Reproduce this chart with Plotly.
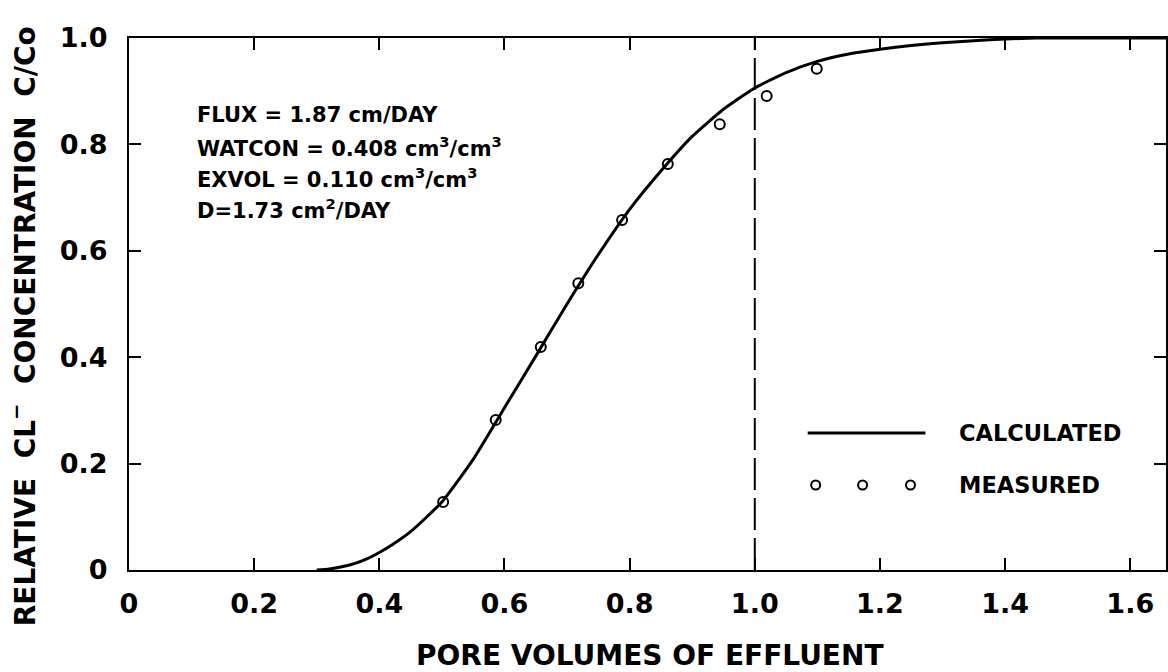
import plotly.graph_objects as go

# ---------------- data ----------------
pv_calc = [0.30, 0.32, 0.34, 0.36, 0.38, 0.40, 0.42, 0.45, 0.50, 0.55, 0.60, 0.65,
           0.70, 0.75, 0.80, 0.85, 0.90, 0.95, 1.00, 1.05, 1.10, 1.15, 1.20, 1.25,
           1.30, 1.35, 1.40, 1.45, 1.50, 1.60, 1.66]
c_calc = [0.0, 0.002, 0.006, 0.012, 0.021, 0.033, 0.047, 0.072, 0.128, 0.208, 0.305,
          0.402, 0.500, 0.593, 0.678, 0.750, 0.815, 0.866, 0.906, 0.935, 0.956, 0.970,
          0.979, 0.986, 0.991, 0.995, 0.998, 1.0, 1.0, 1.0, 1.0]

pv_meas = [0.502, 0.586, 0.658, 0.718, 0.788, 0.861, 0.944, 1.019, 1.099]
c_meas = [0.128, 0.282, 0.419, 0.539, 0.658, 0.763, 0.838, 0.891, 0.942]

x_ticks = [0, 0.2, 0.4, 0.6, 0.8, 1.0, 1.2, 1.4, 1.6]
x_ticktext = ["0", "0.2", "0.4", "0.6", "0.8", "1.0", "1.2", "1.4", "1.6"]
y_ticks = [0, 0.2, 0.4, 0.6, 0.8, 1.0]
y_ticktext = ["0", "0.2", "0.4", "0.6", "0.8", "1.0"]

params = ["FLUX = 1.87 cm/DAY",
          "WATCON = 0.408 cm<sup>3</sup>/cm<sup>3</sup>",
          "EXVOL = 0.110 cm<sup>3</sup>/cm<sup>3</sup>",
          "D=1.73 cm<sup>2</sup>/DAY"]
legend_labels = ["CALCULATED", "MEASURED"]
x_title = "PORE VOLUMES OF EFFLUENT"
y_title = "RELATIVE  CL<sup>\u2212</sup>  CONCENTRATION  C/Co"
ref_line_x = 1.0

# ---------------- layout helpers ----------------
W, H = 1168, 672
L, T, B = 129, 38, 570
FONT = "DejaVu Sans"


def px_x(p):
    return (p - L) / (W - L)


def px_y(p):
    return (B - p) / (B - T)


fig = go.Figure()

fig.add_trace(go.Scatter(x=pv_calc, y=c_calc, mode="lines",
                         line=dict(color="black", width=3, shape="spline", smoothing=0.5),
                         showlegend=False, cliponaxis=True))
fig.add_trace(go.Scatter(x=pv_meas, y=c_meas, mode="markers",
                         marker=dict(symbol="circle-open", size=10, color="black",
                                     line=dict(width=2, color="black")),
                         showlegend=False))

# vertical dashed line at one pore volume
fig.add_shape(type="line", xref="x", yref="y", x0=ref_line_x, x1=ref_line_x, y0=0, y1=1,
              line=dict(color="black", width=2, dash="32px,8px"))

annotations = []
for i, txt in enumerate(params):
    annotations.append(dict(text=txt, xref="paper", yref="paper",
                            x=px_x(195), y=px_y(115 + i * 31.5),
                            xanchor="left", yanchor="middle", showarrow=False,
                            font=dict(family=FONT, size=21, color="black", weight="bold")))

# legend (drawn manually)
fig.add_shape(type="line", xref="paper", yref="paper",
              x0=px_x(809), x1=px_x(927), y0=px_y(433), y1=px_y(433),
              line=dict(color="black", width=3))
for cx in (817, 864, 912):
    fig.add_shape(type="circle", xref="paper", yref="paper",
                  x0=px_x(cx - 4.5), x1=px_x(cx + 4.5), y0=px_y(485 + 4.5), y1=px_y(485 - 4.5),
                  line=dict(color="black", width=2))
for txt, yy in zip(legend_labels, (433, 485)):
    annotations.append(dict(text=txt, xref="paper", yref="paper",
                            x=px_x(959), y=px_y(yy), xanchor="left", yanchor="middle",
                            showarrow=False,
                            font=dict(family=FONT, size=22.5, color="black", weight="bold")))

annotations.append(dict(text=x_title, xref="paper", yref="paper",
                        x=px_x(651), y=px_y(655), xanchor="center", yanchor="middle",
                        showarrow=False,
                        font=dict(family=FONT, size=28, color="black", weight="bold")))
annotations.append(dict(text=y_title, xref="paper", yref="paper", textangle=-90,
                        x=px_x(23), y=px_y(326), xanchor="center", yanchor="middle",
                        showarrow=False,
                        font=dict(family=FONT, size=28, color="black", weight="bold")))

axis_common = dict(showgrid=False, zeroline=False, showline=True, linecolor="black",
                   linewidth=2, mirror="allticks", ticks="inside", ticklen=12,
                   tickwidth=2, tickcolor="black",
                   tickfont=dict(family=FONT, size=27, color="black", weight="bold"))

fig.update_layout(
    width=W, height=H,
    margin=dict(l=L, r=0, t=T, b=H - B, pad=0),
    paper_bgcolor="white", plot_bgcolor="white",
    xaxis=dict(range=[0, (W - L) / 627], tickvals=x_ticks, ticktext=x_ticktext,
               ticklabelstandoff=9, **axis_common),
    yaxis=dict(range=[0, 1], tickvals=y_ticks, ticktext=y_ticktext,
               ticklabelstandoff=14, **axis_common),
    annotations=annotations,
    showlegend=False,
)

fig.write_html("out.html")
